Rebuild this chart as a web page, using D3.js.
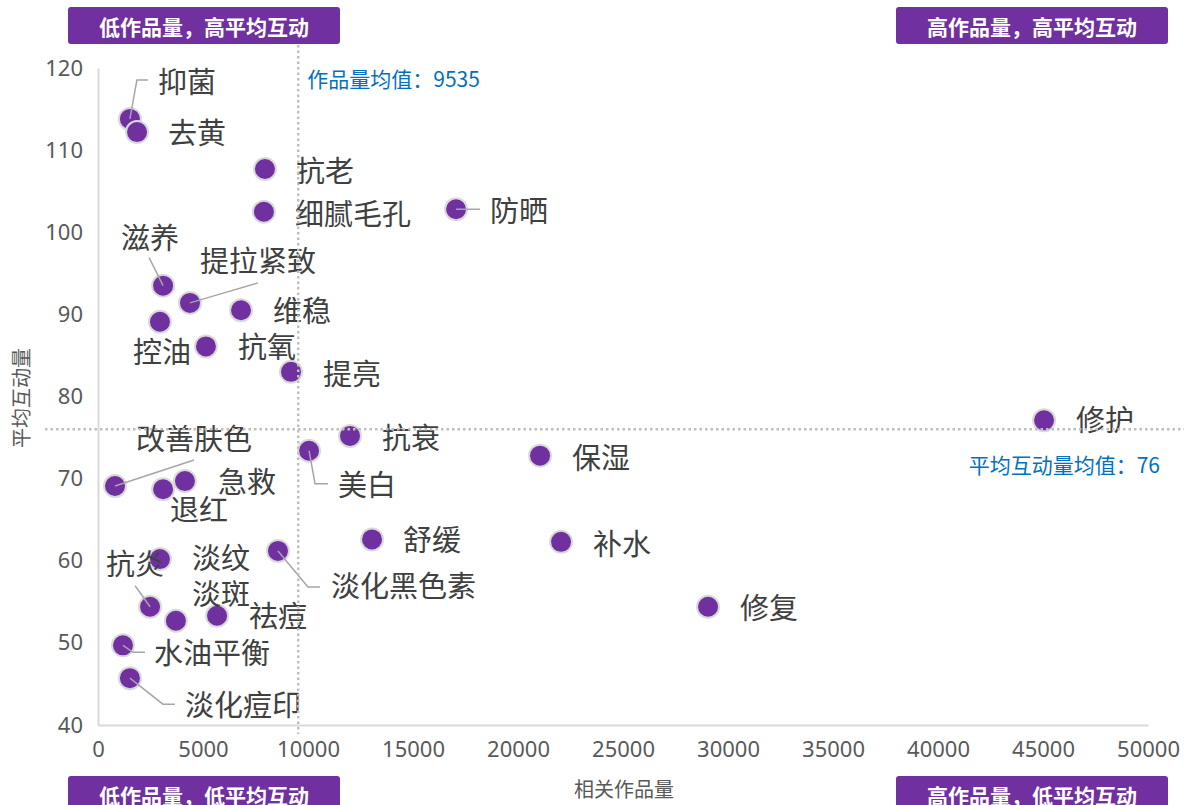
<!DOCTYPE html>
<html>
<head>
<meta charset="utf-8">
<title>作品量与平均互动量</title>
<style>
  body { margin: 0; background: #fff; }
  svg text { font-family: "Noto Sans CJK SC", "Noto Sans", sans-serif; }
  .axis path { stroke: #d9d9d9; stroke-width: 2; }
  .axis text { fill: #595959; font-size: 22px; font-family: "Noto Sans", sans-serif; }
</style>
</head>
<body>
<svg id="chart" width="1184" height="805"></svg>
<script src="https://cdn.jsdelivr.net/npm/d3@7"></script>
<script>
// data
var names = ['抑菌', '去黄', '抗老', '细腻毛孔', '防晒', '滋养', '提拉紧致', '维稳', '控油', '抗氧',
             '提亮', '抗衰', '美白', '改善肤色', '急救', '退红', '保湿', '修护', '舒缓', '补水',
             '修复', '淡化黑色素', '淡纹', '抗炎', '淡斑', '祛痘', '水油平衡', '淡化痘印']
var worksCount = [1520, 1860, 7950, 7900, 17050, 3100, 4380, 6810, 2950, 5140,
                  9190, 12000, 10050, 810, 4140, 3100, 21050, 45050, 13050, 22050,
                  29050, 8570, 2950, 2480, 3710, 5670, 1190, 1520]
var avgInteract = [113.8, 112.2, 107.7, 102.5, 102.8, 93.5, 91.4, 90.5, 89.1, 86.1,
                   83.0, 75.2, 73.4, 69.1, 69.7, 68.7, 72.8, 77.1, 62.6, 62.3,
                   54.4, 61.2, 60.2, 54.4, 52.7, 53.3, 49.7, 45.7]
var xTicks = [0, 5000, 10000, 15000, 20000, 25000, 30000, 35000, 40000, 45000, 50000]
var yTicks = [40, 50, 60, 70, 80, 90, 100, 110, 120]
var worksMean = 9535
var interactMean = 76
var quadrants = ['低作品量，高平均互动', '高作品量，高平均互动', '低作品量，低平均互动', '高作品量，低平均互动']

// label placement, pixel offsets from the point: [dx, dy, leader elbows...]
var labelPos = {
  '抑菌': [28, -39, [[7, -39], [18, -39]]],
  '去黄': [31, -1],
  '抗老': [31, 0],
  '细腻毛孔': [31, 0],
  '防晒': [34, 0, [[24, 0]]],
  '滋养': [-42, -50, [[-14, -28]]],
  '提拉紧致': [10, -44, [[68, -20]]],
  '维稳': [32, -1],
  '控油': [-27, 28],
  '抗氧': [32, -1],
  '提亮': [32, 0],
  '抗衰': [32, 0],
  '美白': [29, 32, [[6, 33], [19, 33]]],
  '改善肤色': [21, -49, [[79, -26]]],
  '急救': [33, -1],
  '退红': [7, 19],
  '保湿': [32, 0],
  '修护': [32, -2],
  '舒缓': [31, -1],
  '补水': [32, 0],
  '修复': [32, -1],
  '淡化黑色素': [53, 33, [[30, 36], [42, 36]]],
  '淡纹': [32, -3],
  '抗炎': [-44, -45, [[-15, -21]]],
  '淡斑': [16, -29],
  '祛痘': [32, -2],
  '水油平衡': [31, 6, [[10, 7], [22, 7]]],
  '淡化痘印': [55, 25, [[33, 26], [45, 26]]]
}

var svg = d3.select('#chart')
var plotLeft = 98, plotRight = 1148, plotTop = 68, plotBottom = 725

var x = d3.scaleLinear().domain([0, 50000]).range([plotLeft, plotRight])
var y = d3.scaleLinear().domain([40, 120]).range([plotBottom, plotTop])

// axes
svg.append('g')
  .attr('class', 'axis')
  .attr('transform', 'translate(0,' + plotBottom + ')')
  .call(d3.axisBottom(x).tickValues(xTicks).tickSize(0).tickPadding(16).tickFormat(d3.format('d')))

svg.append('g')
  .attr('class', 'axis')
  .attr('transform', 'translate(' + plotLeft + ',0)')
  .call(d3.axisLeft(y).tickValues(yTicks).tickSize(0).tickPadding(15))

svg.append('text')
  .attr('x', 624).attr('y', 788)
  .attr('text-anchor', 'middle').attr('dominant-baseline', 'central')
  .attr('fill', '#595959').attr('font-size', 20)
  .text('相关作品量')

svg.append('text')
  .attr('transform', 'translate(20,398) rotate(-90)')
  .attr('text-anchor', 'middle').attr('dominant-baseline', 'central')
  .attr('fill', '#595959').attr('font-size', 20)
  .text('平均互动量')

var pts = names.map(function (n, i) { return { name: n, x: worksCount[i], y: avgInteract[i] } })

// points
svg.append('g').selectAll('circle')
  .data(pts)
  .enter().append('circle')
  .attr('cx', d => x(d.x))
  .attr('cy', d => y(d.y))
  .attr('r', 11)
  .attr('fill', '#7030a0')
  .attr('stroke', '#d9d9d9')
  .attr('stroke-width', 2)

// leader lines
var line = d3.line()
svg.append('g').selectAll('path')
  .data(pts.filter(d => labelPos[d.name][2]))
  .enter().append('path')
  .attr('d', function (d) {
    var px = x(d.x), py = y(d.y)
    var coords = [[px, py]].concat(labelPos[d.name][2].map(p => [px + p[0], py + p[1]]))
    return line(coords)
  })
  .attr('fill', 'none')
  .attr('stroke', '#a6a6a6')
  .attr('stroke-width', 1.5)

// labels
svg.append('g').selectAll('text')
  .data(pts)
  .enter().append('text')
  .attr('x', d => x(d.x) + labelPos[d.name][0])
  .attr('y', d => y(d.y) + labelPos[d.name][1])
  .attr('dominant-baseline', 'central')
  .attr('fill', '#404040')
  .attr('font-size', 29)
  .text(d => d.name)

// mean lines (drawn on top, like the original)
svg.append('line')
  .attr('x1', x(worksMean)).attr('x2', x(worksMean))
  .attr('y1', 45).attr('y2', 734)
  .attr('stroke', '#bfbfbf').attr('stroke-width', 2.5).attr('stroke-dasharray', '2.5,3')

svg.append('line')
  .attr('x1', 45).attr('x2', 1184)
  .attr('y1', y(interactMean)).attr('y2', y(interactMean))
  .attr('stroke', '#bfbfbf').attr('stroke-width', 2.5).attr('stroke-dasharray', '2.5,3')

svg.append('text')
  .attr('x', x(worksMean) + 9).attr('y', 78)
  .attr('dominant-baseline', 'central')
  .attr('fill', '#0070c0').attr('font-size', 21)
  .text('作品量均值：' + worksMean)

svg.append('text')
  .attr('x', 1160).attr('y', y(interactMean) + 35)
  .attr('text-anchor', 'end').attr('dominant-baseline', 'central')
  .attr('fill', '#0070c0').attr('font-size', 21)
  .text('平均互动量均值：' + interactMean)

// quadrant tags
var boxes = [[68, 7], [896, 7], [68, 776], [896, 776]]
var tag = svg.append('g').selectAll('g')
  .data(quadrants)
  .enter().append('g')
  .attr('transform', (d, i) => 'translate(' + boxes[i][0] + ',' + boxes[i][1] + ')')

tag.append('rect')
  .attr('width', 272).attr('height', 37)
  .attr('rx', 3)
  .attr('fill', '#7030a0')

tag.append('text')
  .attr('x', 136).attr('y', 19)
  .attr('text-anchor', 'middle').attr('dominant-baseline', 'central')
  .attr('fill', '#fff').attr('font-size', 21).attr('font-weight', 'bold')
  .text(d => d)
</script>
</body>
</html>
